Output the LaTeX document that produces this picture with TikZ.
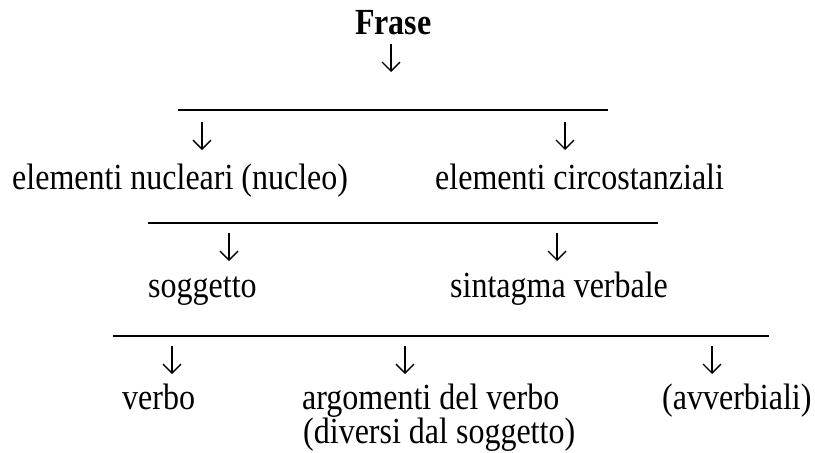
\documentclass[tikz,border=0pt]{standalone}
\usepackage{graphicx}
\usepackage{fontspec}
\setmainfont{Liberation Serif}
\usetikzlibrary{arrows.meta}
\newcommand\vstretch[1]{\scalebox{1}[1.15]{#1}}
\begin{document}
\begin{tikzpicture}[x=1pt,y=-1pt,
  txt/.style={inner sep=0pt, anchor=base west, font=\fontsize{32}{38}\selectfont},
  bar/.style={line width=1.6pt},
  arr/.style={line width=1.3pt, -{Straight Barb[length=9pt,width=18pt]}}]
\useasboundingbox (0,0) rectangle (815,453);
% texts
\node[txt, font=\fontsize{32}{38}\selectfont\bfseries] (frase) at (355,34) {\vstretch{Frase}};
\node[txt] (nucl) at (12,189) {\vstretch{elementi nucleari (nucleo)}};
\node[txt] (circ) at (435,189) {\vstretch{elementi circostanziali}};
\node[txt] (sogg) at (148,297) {\vstretch{soggetto}};
\node[txt] (sint) at (450,297) {\vstretch{sintagma verbale}};
\node[txt] (verb) at (122,409) {\vstretch{verbo}};
\node[txt] (argo) at (302,409) {\vstretch{argomenti del verbo}};
\node[txt] (dive) at (303,443) {\vstretch{(diversi dal soggetto)}};
\node[txt] (avve) at (662,409) {\vstretch{(avverbiali)}};
% bars
\coordinate (b1l) at (178,110); \coordinate (b1r) at (608,110);
\coordinate (b2l) at (148,223); \coordinate (b2r) at (658,223);
\coordinate (b3l) at (113,336); \coordinate (b3r) at (769,336);
\draw[bar] (b1l) -- (b1r);
\draw[bar] (b2l) -- (b2r);
\draw[bar] (b3l) -- (b3r);
% arrows
\coordinate (a0s) at (391,44);  \coordinate (a0e) at (391,72);
\coordinate (a1s) at (202,122); \coordinate (a1e) at (202,150);
\coordinate (a2s) at (565,122); \coordinate (a2e) at (565,150);
\coordinate (a3s) at (229,233); \coordinate (a3e) at (229,261);
\coordinate (a4s) at (557,233); \coordinate (a4e) at (557,261);
\coordinate (a5s) at (172,346); \coordinate (a5e) at (172,374);
\coordinate (a6s) at (405,346); \coordinate (a6e) at (405,374);
\coordinate (a7s) at (712,346); \coordinate (a7e) at (712,374);
\foreach \i in {0,...,7} \draw[arr] (a\i s) -- (a\i e);
\end{tikzpicture}
\end{document}
